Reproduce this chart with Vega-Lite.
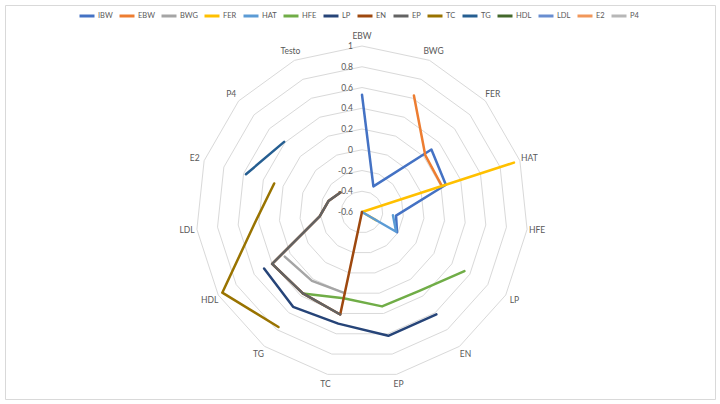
{
  "$schema": "https://vega.github.io/schema/vega-lite/v6.json",
  "width": 710,
  "height": 394,
  "padding": 5,
  "autosize": {"type": "none"},
  "background": "white",
  "config": {
    "view": {"stroke": "#d9d9d9", "strokeWidth": 1},
    "font": "Lato",
    "legend": {
      "orient": "none",
      "legendX": 73,
      "legendY": 2,
      "direction": "horizontal",
      "columns": 15,
      "symbolType": "stroke",
      "symbolSize": 225,
      "symbolStrokeWidth": 3,
      "labelFontSize": 7.5,
      "labelColor": "#595959",
      "labelFont": "Lato",
      "labelOffset": 2,
      "columnPadding": 0
    }
  },
  "datasets": {
    "cats": [
      {"cat": "EBW", "idx": 0}, {"cat": "BWG", "idx": 1}, {"cat": "FER", "idx": 2},
      {"cat": "HAT", "idx": 3}, {"cat": "HFE", "idx": 4}, {"cat": "LP", "idx": 5},
      {"cat": "EN", "idx": 6}, {"cat": "EP", "idx": 7}, {"cat": "TC", "idx": 8},
      {"cat": "TG", "idx": 9}, {"cat": "HDL", "idx": 10}, {"cat": "LDL", "idx": 11},
      {"cat": "E2", "idx": 12}, {"cat": "P4", "idx": 13}, {"cat": "Testo", "idx": 14}
    ],
    "levels": [
      {"level": -0.6, "spoke": [0,1,2,3,4,5,6,7,8,9,10,11,12,13,14,15]},
      {"level": -0.4, "spoke": [0,1,2,3,4,5,6,7,8,9,10,11,12,13,14,15]},
      {"level": -0.2, "spoke": [0,1,2,3,4,5,6,7,8,9,10,11,12,13,14,15]},
      {"level": 0, "spoke": [0,1,2,3,4,5,6,7,8,9,10,11,12,13,14,15]},
      {"level": 0.2, "spoke": [0,1,2,3,4,5,6,7,8,9,10,11,12,13,14,15]},
      {"level": 0.4, "spoke": [0,1,2,3,4,5,6,7,8,9,10,11,12,13,14,15]},
      {"level": 0.6, "spoke": [0,1,2,3,4,5,6,7,8,9,10,11,12,13,14,15]},
      {"level": 0.8, "spoke": [0,1,2,3,4,5,6,7,8,9,10,11,12,13,14,15]},
      {"level": 1, "spoke": [0,1,2,3,4,5,6,7,8,9,10,11,12,13,14,15]}
    ],
    "corr": [
      {"series": "IBW", "cat": "EBW", "v": 0.53},
      {"series": "IBW", "cat": "BWG", "v": -0.33},
      {"series": "IBW", "cat": "FER", "v": 0.30},
      {"series": "IBW", "cat": "HAT", "v": 0.25},
      {"series": "IBW", "cat": "HFE", "v": -0.27},
      {"series": "IBW", "cat": "LP", "v": -0.21},
      {"series": "EBW", "cat": "BWG", "v": 0.63},
      {"series": "EBW", "cat": "FER", "v": 0.22},
      {"series": "EBW", "cat": "HAT", "v": 0.21},
      {"series": "BWG", "cat": "TC", "v": 0.20},
      {"series": "BWG", "cat": "TG", "v": 0.22},
      {"series": "BWG", "cat": "HDL", "v": 0.26},
      {"series": "FER", "cat": "HAT", "v": 0.94},
      {"series": "FER", "cat": "HFE", "v": -0.6},
      {"series": "FER", "cat": "LP", "v": -0.44},
      {"series": "HAT", "cat": "HFE", "v": -0.30},
      {"series": "HAT", "cat": "LP", "v": -0.22},
      {"series": "HAT", "cat": "EN", "v": -0.6},
      {"series": "HFE", "cat": "LP", "v": 0.54},
      {"series": "HFE", "cat": "EN", "v": 0.34},
      {"series": "HFE", "cat": "EP", "v": 0.33},
      {"series": "HFE", "cat": "TC", "v": 0.25},
      {"series": "HFE", "cat": "TG", "v": 0.37},
      {"series": "LP", "cat": "EN", "v": 0.62},
      {"series": "LP", "cat": "EP", "v": 0.62},
      {"series": "LP", "cat": "TC", "v": 0.50},
      {"series": "LP", "cat": "TG", "v": 0.53},
      {"series": "LP", "cat": "HDL", "v": 0.49},
      {"series": "EN", "cat": "EP", "v": -0.6},
      {"series": "EN", "cat": "TC", "v": 0.41},
      {"series": "EN", "cat": "TG", "v": 0.37},
      {"series": "EN", "cat": "HDL", "v": 0.40},
      {"series": "EN", "cat": "LDL", "v": -0.19},
      {"series": "EN", "cat": "E2", "v": -0.26},
      {"series": "EN", "cat": "P4", "v": -0.32},
      {"series": "EP", "cat": "TC", "v": 0.41},
      {"series": "EP", "cat": "TG", "v": 0.37},
      {"series": "EP", "cat": "HDL", "v": 0.40},
      {"series": "EP", "cat": "LDL", "v": -0.19},
      {"series": "EP", "cat": "E2", "v": -0.26},
      {"series": "EP", "cat": "P4", "v": -0.32},
      {"series": "TC", "cat": "TG", "v": 0.77},
      {"series": "TC", "cat": "HDL", "v": 0.955},
      {"series": "TC", "cat": "LDL", "v": 0.44},
      {"series": "TC", "cat": "E2", "v": 0.29},
      {"series": "TG", "cat": "E2", "v": 0.576},
      {"series": "TG", "cat": "P4", "v": 0.41}
    ]
  },
  "encoding": {
    "x": {"field": "px", "type": "quantitative", "axis": null,
          "scale": {"domain": [-2.1506, 2.1265], "nice": false, "zero": false}},
    "y": {"field": "py", "type": "quantitative", "axis": null,
          "scale": {"domain": [-1.1265, 1.2470], "nice": false, "zero": false}}
  },
  "layer": [
    {
      "data": {"name": "levels"},
      "transform": [
        {"filter": "datum.level > -0.6"},
        {"flatten": ["spoke"]},
        {"calculate": "datum.spoke * 2 * PI / 15", "as": "theta"},
        {"calculate": "(datum.level + 0.6) / 1.6", "as": "r"},
        {"calculate": "datum.r * sin(datum.theta)", "as": "px"},
        {"calculate": "datum.r * cos(datum.theta)", "as": "py"}
      ],
      "mark": {"type": "line", "stroke": "#d9d9d9", "strokeWidth": 1},
      "encoding": {
        "detail": {"field": "level"},
        "order": {"field": "spoke", "type": "quantitative"}
      }
    },
    {
      "data": {"name": "levels"},
      "transform": [
        {"calculate": "(datum.level + 0.6) / 1.6", "as": "py"},
        {"calculate": "0", "as": "px"},
        {"calculate": "'' + datum.level", "as": "lab"}
      ],
      "mark": {"type": "text", "align": "right", "baseline": "middle", "dx": -9,
               "fontSize": 8.5, "color": "#595959"},
      "encoding": {"text": {"field": "lab"}}
    },
    {
      "data": {"name": "cats"},
      "transform": [
        {"calculate": "datum.idx * 2 * PI / 15", "as": "theta"},
        {"calculate": "1.06 * sin(datum.theta)", "as": "px"},
        {"calculate": "1.06 * cos(datum.theta)", "as": "py"}
      ],
      "mark": {"type": "text", "align": "center", "baseline": "middle",
               "fontSize": 8.5, "color": "#595959"},
      "encoding": {"text": {"field": "cat"}}
    },
    {
      "data": {"name": "corr"},
      "transform": [
        {"lookup": "cat", "from": {"data": {"name": "cats"}, "key": "cat", "fields": ["idx"]}},
        {"calculate": "datum.idx * 2 * PI / 15", "as": "theta"},
        {"calculate": "(datum.v + 0.6) / 1.6", "as": "r"},
        {"calculate": "datum.r * sin(datum.theta)", "as": "px"},
        {"calculate": "datum.r * cos(datum.theta)", "as": "py"}
      ],
      "mark": {"type": "line", "strokeWidth": 2.5, "strokeJoin": "round", "strokeCap": "round"},
      "encoding": {
        "color": {
          "field": "series", "type": "nominal", "title": null,
          "scale": {
            "domain": ["IBW", "EBW", "BWG", "FER", "HAT", "HFE", "LP", "EN", "EP", "TC", "TG", "HDL", "LDL", "E2", "P4"],
            "range": ["#4472C4", "#ED7D31", "#A5A5A5", "#FFC000", "#5B9BD5", "#70AD47", "#264478", "#9E480E", "#636363", "#997300", "#255E91", "#43682B", "#698ED0", "#F1975A", "#B7B7B7"]
          }
        },
        "order": {"field": "idx", "type": "quantitative"}
      }
    }
  ]
}
